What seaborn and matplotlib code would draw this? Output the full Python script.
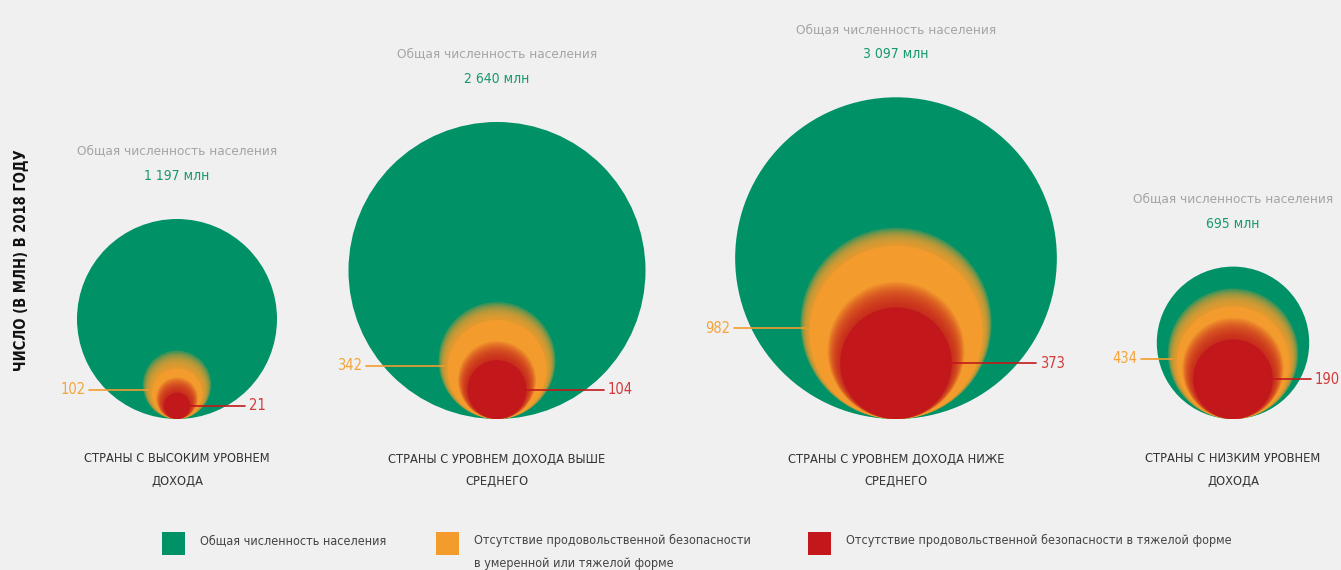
import numpy as np
import pandas as pd
import seaborn as sns
from matplotlib import pyplot as plt
from matplotlib.patches import Rectangle

# data (million people, 2018)
groups = [
    "СТРАНЫ С ВЫСОКИМ УРОВНЕМ\nДОХОДА",
    "СТРАНЫ С УРОВНЕМ ДОХОДА ВЫШЕ\nСРЕДНЕГО",
    "СТРАНЫ С УРОВНЕМ ДОХОДА НИЖЕ\nСРЕДНЕГО",
    "СТРАНЫ С НИЗКИМ УРОВНЕМ\nДОХОДА",
]
population = [1197, 2640, 3097, 695]
population_labels = ["1 197 млн", "2 640 млн", "3 097 млн", "695 млн"]
moderate_or_severe = [102, 342, 982, 434]
severe = [21, 104, 373, 190]
legend_labels = [
    "Общая численность населения",
    "Отсутствие продовольственной безопасности\nв умеренной или тяжелой форме",
    "Отсутствие продовольственной безопасности в тяжелой форме",
]

GREEN = "#009167"
ORANGE = "#f39c2d"
RED = "#c2181c"
BG = "#f0f0f0"

W, H, DPI = 1341, 570, 100
centers_x = np.array([177, 497, 896, 1233])
baseline = 419
k = 100 / np.sqrt(1197)  # px radius per sqrt(million)

sns.set_theme(style="white")
plt.rcParams["font.family"] = ["DejaVu Sans"]
plt.rcParams["font.stretch"] = "condensed"

fig = plt.figure(figsize=(W / DPI, H / DPI), dpi=DPI, facecolor=BG)
ax = fig.add_axes([0, 0, 1, 1])
ax.set_facecolor(BG)
ax.set_xlim(0, W)
ax.set_ylim(H, 0)
ax.set_axis_off()


def radius(v):
    return k * np.sqrt(np.asarray(v, dtype=float))


def circles(r, color, alpha=1.0):
    # bottom-aligned circles, marker diameter in points
    df = pd.DataFrame({"x": centers_x, "y": baseline - r})
    sns.scatterplot(data=df, x="x", y="y", ax=ax, color=color, alpha=alpha,
                    s=(2 * r * 72 / DPI) ** 2, linewidth=0, legend=False)


r_pop = radius(population)
r_mod = radius(moderate_or_severe)
r_sev = radius(severe)

circles(r_pop, GREEN)

# soft orange edge
n = 10
a = 1 - 0.05 ** (1 / n)
for j in range(n):
    circles(r_mod + 5 - j, ORANGE, a)
circles(r_mod - 4, ORANGE)

# red glow into orange
glow = np.minimum(0.12 * r_sev + 6, r_mod - r_sev - 3)
n = 16
a = 1 - 0.2 ** (1 / n)
for j in range(n):
    circles(r_sev + glow * (1 - j / n), RED, a)
circles(r_sev, RED)

for i in range(len(groups)):
    cx = centers_x[i]
    top = baseline - 2 * r_pop[i]
    cy = baseline - r_pop[i]
    ax.text(cx, top - 68, "Общая численность населения", ha="center", va="center",
            color="#a5a5a5", fontsize=9.7)
    ax.text(cx, top - 43, population_labels[i], ha="center", va="center",
            color="#17996b", fontsize=10)
    ax.text(cx, 470, groups[i], ha="center", va="center", color="#333333",
            fontsize=9.2, linespacing=1.9)

    # orange callout
    y = baseline - r_mod[i]
    hw = np.sqrt(r_pop[i] ** 2 - (y - cy) ** 2)
    x0 = cx - hw - 17
    ax.plot([x0, cx - r_mod[i]], [y, y], color=ORANGE, lw=1.2)
    ax.text(x0 - 4, y, str(moderate_or_severe[i]), ha="right", va="center",
            color="#f5a43c", fontsize=10.5)

    # red callout
    y = baseline - r_sev[i]
    hw = np.sqrt(r_pop[i] ** 2 - (y - cy) ** 2)
    x1 = min(cx + hw + 18, W - 30)
    ax.plot([cx + r_sev[i], x1], [y, y], color=RED, lw=1.2)
    ax.text(x1 + 4, y, str(severe[i]), ha="left", va="center",
            color="#d23b3b", fontsize=10.5)

ax.text(22, 260, "ЧИСЛО (В МЛН) В 2018 ГОДУ", rotation=90, ha="center", va="center",
        color="#111111", fontsize=10.5, fontweight="bold")

# legend
for (lx, color, label) in zip([162, 436, 808], [GREEN, ORANGE, RED], legend_labels):
    ax.add_patch(Rectangle((lx, 532), 23, 23, color=color, lw=0))
    ax.text(lx + 38, 534, label, ha="left", va="top", color="#444444",
            fontsize=9, linespacing=1.95)

fig.savefig("out.png", dpi=DPI, facecolor=BG)
